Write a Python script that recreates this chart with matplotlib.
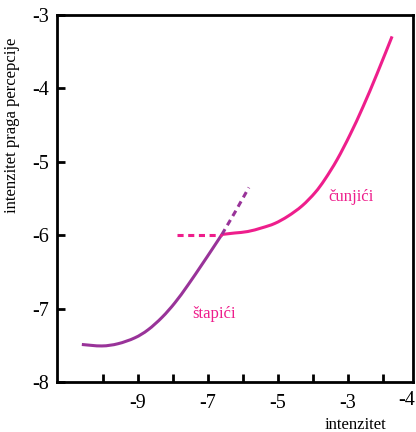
import matplotlib
matplotlib.use('Agg')
import matplotlib.pyplot as plt
import numpy as np
from matplotlib.path import Path
from matplotlib.patches import PathPatch

plt.rcParams['font.family'] = ['Liberation Serif', 'DejaVu Serif']

# stapici (rods) - solid part and dashed continuation
rod_x = [-10.60, -10.03, -9.57, -9.09, -8.71, -8.31, -7.94, -7.57, -7.17, -6.89, -6.60]
rod_y = [-7.49, -7.51, -7.48, -7.40, -7.29, -7.12, -6.92, -6.68, -6.40, -6.20, -5.99]
rod_dash_x = [-6.60, -6.23, -5.83]
rod_dash_y = [-5.99, -5.69, -5.35]

# cunjici (cones)
cone_dash_x = [-7.89, -6.60]
cone_dash_y = [-6.00, -6.00]
cone_x = [-6.60, -6.23, -5.86, -5.46, -5.09, -4.71, -4.31, -3.94, -3.66, -3.31,
          -2.94, -2.57, -2.17, -1.74]
cone_y = [-5.99, -5.97, -5.95, -5.90, -5.84, -5.74, -5.60, -5.42, -5.24, -4.97,
          -4.63, -4.25, -3.80, -3.29]

xticks = [-9, -7, -5, -3]
yticks = [-8, -7, -6, -5, -4, -3]

purple = '#993399'
pink = '#EE1E8C'


def smooth_path(xs, ys):
    # cubic bezier through the points (catmull-rom tangents)
    p = np.column_stack([xs, ys])
    verts = [p[0]]
    codes = [Path.MOVETO]
    for i in range(len(p) - 1):
        p0 = p[i - 1] if i > 0 else p[i]
        p3 = p[i + 2] if i + 2 < len(p) else p[i + 1]
        c1 = p[i] + (p[i + 1] - p0) / 6
        c2 = p[i + 1] - (p3 - p[i]) / 6
        verts += [c1, c2, p[i + 1]]
        codes += [Path.CURVE4] * 3
    return Path(verts, codes)


fig = plt.figure(figsize=(4.16, 4.32), dpi=100)
ax = fig.add_axes([0.137, 0.116, 0.856, 0.849])

ax.add_patch(PathPatch(smooth_path(rod_x, rod_y), fill=False, edgecolor=purple, lw=2.2))
ax.plot(rod_dash_x, rod_dash_y, color=purple, lw=2.2, ls=(0, (2, 1.5)))
ax.plot(cone_dash_x, cone_dash_y, color=pink, lw=2.2, ls=(0, (2, 1.5)))
ax.add_patch(PathPatch(smooth_path(cone_x, cone_y), fill=False, edgecolor=pink, lw=2.2))

ax.set_xlim(-11.31, -1.14)
ax.set_ylim(-8, -3)

ax.set_xticks(range(-10, -1), minor=True)
ax.set_xticks(xticks)
ax.set_xticklabels([str(t) for t in xticks])
ax.set_yticks(yticks)
ax.set_yticklabels([str(t) for t in yticks])

ax.tick_params(axis='both', which='both', direction='in', width=2, length=6,
               labelsize=14.5, colors='black')
ax.tick_params(axis='x', pad=9)
ax.tick_params(axis='y', pad=6)

for s in ax.spines.values():
    s.set_linewidth(2)

# tick label at the right edge
fig.text(0.999, 0.072, '-4', ha='right', va='center', fontsize=14.5)

ax.text(-2.91, -5.48, 'čunjići', color=pink, fontsize=12, ha='center', va='center')
ax.text(-6.83, -7.07, 'štapići', color=pink, fontsize=12, ha='center', va='center')

fig.text(0.855, 0.016, 'intenzitet', fontsize=12, ha='center', va='center')
fig.text(0.028, 0.71, 'intenzitet praga percepcije', fontsize=12, rotation=90,
         ha='center', va='center')

fig.savefig('out.png', dpi=100)
